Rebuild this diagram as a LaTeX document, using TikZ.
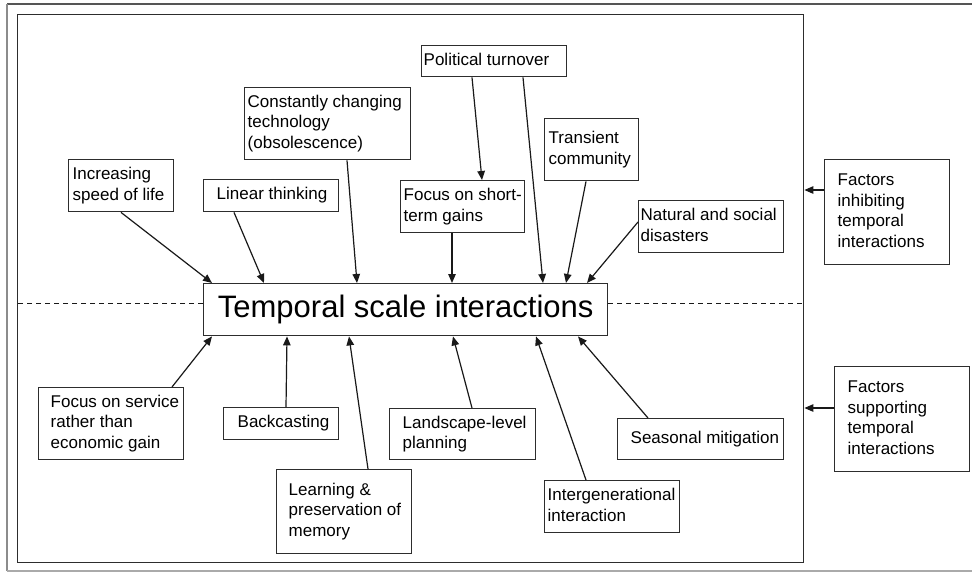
\documentclass[tikz,border=0pt]{standalone}
\usepackage{fontspec}
\setmainfont{Liberation Sans}
\usetikzlibrary{arrows.meta,calc}

\definecolor{boxgray}{RGB}{45,45,45}
\definecolor{linegray}{RGB}{25,25,25}
\definecolor{framedark}{RGB}{85,85,85}
\definecolor{framemid}{RGB}{140,140,140}
\definecolor{framelight}{RGB}{170,170,170}

\tikzset{
  fbox/.style={draw=boxgray, line width=1.4pt, inner sep=0pt, anchor=north west,
    fill=white, font=\fontsize{17pt}{20.5pt}\selectfont},
  arr/.style={draw=linegray, line width=1.2pt, -{Triangle[length=9pt,width=7.5pt]}},
  divider/.style={draw=linegray, line width=1pt, dash pattern=on 5pt off 4pt},
}

% name, left, top, width, height, left padding, lines
\newcommand\factorbox[7]{%
  \node[fbox, minimum width=#4pt, minimum height=#5pt] (#1) at (#2,#3)
    {\parbox{#4pt}{\hspace*{#6pt}\begin{tabular}{@{}l@{}}#7\end{tabular}}};}

\begin{document}
\begin{tikzpicture}[x=1pt, y=-1pt]
  \useasboundingbox[fill=white] (0,0) rectangle (972,573);

  % outer page frame
  \draw[framedark, line width=2pt] (972,4) -- (7,4);
  \draw[framemid, line width=1.5pt] (7,4) -- (7,571);
  \draw[framelight, line width=1.5pt] (7,571) -- (972,571);

  % inner frame holding the factors
  \node[draw=boxgray, line width=1.4pt, minimum width=786pt, minimum height=548pt,
        inner sep=0pt, anchor=north west] (frame) at (17,14) {};

  % central concept
  \node[draw=boxgray, line width=1.4pt, minimum width=404pt, minimum height=52pt,
        inner sep=0pt, anchor=north west, fill=white,
        font=\fontsize{31pt}{36pt}\selectfont] (tsi) at (203,283)
        {Temporal scale interactions};

  % dashed split between inhibiting and supporting factors
  \draw[divider] ($(tsi.north west)+(0,20)$) coordinate (dl) -- (frame.west |- dl);
  \draw[divider] ($(tsi.north east)+(0,20)$) coordinate (dr) -- (frame.east |- dr);

  % inhibiting factors
  \factorbox{inc}{68}{159}{105}{52}{4}{Increasing\\speed of life}
  \factorbox{lin}{203}{179}{135}{32}{13}{Linear thinking}
  \factorbox{con}{244}{87}{166}{72}{3}{Constantly changing\\technology\\(obsolescence)}
  \factorbox{pol}{421}{45}{145}{31}{2}{Political turnover}
  \factorbox{foc}{400}{180}{124}{52}{3}{Focus on short-\\term gains}
  \factorbox{tra}{544}{118}{94}{62}{4}{Transient\\community}
  \factorbox{nat}{638}{200}{145}{52}{2}{Natural and social\\disasters}

  % supporting factors
  \factorbox{svc}{38}{387}{145}{72}{12}{Focus on service\\rather than\\economic gain}
  \factorbox{bak}{223}{407}{115}{32}{14}{Backcasting}
  \factorbox{lrn}{276}{469}{135}{84}{12}{Learning \&\\preservation of\\memory}
  \factorbox{lan}{389}{408}{146}{51}{13}{Landscape-level\\planning}
  \factorbox{int}{544}{480}{135}{52}{3}{Intergenerational\\interaction}
  \factorbox{sea}{617}{418}{166}{41}{13}{Seasonal mitigation}

  % legend boxes
  \factorbox{inh}{824}{159}{125}{105}{13}{Factors\\inhibiting\\temporal\\interactions}
  \factorbox{sup}{834}{366}{135}{105}{13}{Factors\\supporting\\temporal\\interactions}

  % arrows into the central concept from above
  \draw[arr] ($(inc.south west)+(53,0)$) -- ($(tsi.north west)+(9,0)$);
  \draw[arr] ($(lin.south west)+(31,0)$) -- ($(tsi.north west)+(61,0)$);
  \draw[arr] ($(con.south west)+(103,0)$) -- ($(tsi.north west)+(154,0)$);
  \draw[arr] ($(pol.south west)+(51,0)$) -- ($(foc.north west)+(82,0)$);
  \draw[arr] ($(foc.south west)+(52,0)$) -- ($(tsi.north west)+(249,0)$);
  \draw[arr] ($(pol.south west)+(102,0)$) -- ($(tsi.north west)+(340,0)$);
  \draw[arr] ($(tra.south west)+(42,0)$) -- ($(tsi.north west)+(363,0)$);
  \draw[arr] ($(nat.north west)+(0,22)$) -- ($(tsi.north west)+(384,0)$);

  % arrows into the central concept from below
  \draw[arr] ($(svc.north west)+(134,0)$) -- ($(tsi.south west)+(9,0)$);
  \draw[arr] ($(bak.north west)+(63,0)$) -- ($(tsi.south west)+(84,0)$);
  \draw[arr] ($(lrn.north west)+(92,0)$) -- ($(tsi.south west)+(146,0)$);
  \draw[arr] ($(lan.north west)+(83,0)$) -- ($(tsi.south west)+(250,0)$);
  \draw[arr] ($(int.north west)+(42,0)$) -- ($(tsi.south west)+(333,0)$);
  \draw[arr] ($(sea.north west)+(31,0)$) -- ($(tsi.south west)+(375,0)$);

  % legend arrows onto the frame
  \draw[arr] ($(inh.north west)+(0,31)$) coordinate (ia) -- (frame.east |- ia);
  \draw[arr] ($(sup.north west)+(0,42)$) coordinate (sa) -- (frame.east |- sa);
\end{tikzpicture}
\end{document}
